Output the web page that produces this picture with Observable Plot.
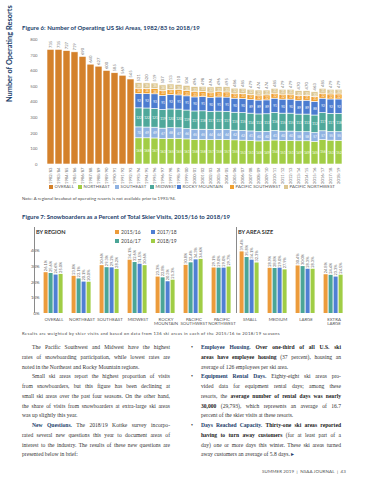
<!DOCTYPE html>
<html><head><meta charset="utf-8">
<script src="https://cdn.jsdelivr.net/npm/d3@7"></script>
<script src="https://cdn.jsdelivr.net/npm/@observablehq/plot@0.6"></script>
<style>
body{margin:0;background:#fff;}
#page{position:relative;width:370px;height:480px;overflow:hidden;background:#fff;font-family:Lato,sans-serif;}
.abs{position:absolute;white-space:nowrap;line-height:1;transform:translateY(-50%);}
.title{font-weight:700;color:#22406b;font-size:6px;}
.small{font-size:4.2px;color:#444;}
.leg{font-size:4.3px;color:#555;letter-spacing:0.1px;}
.sw{position:absolute;width:4px;height:4px;transform:translateY(-50%);}
.ln{position:absolute;white-space:nowrap;font-family:"Liberation Serif",serif;font-size:5.6px;color:#333;line-height:1;transform:translateY(-50%);}
.ln b{font-weight:700;color:#222;}
.ln b.nv{color:#22406b;}
.vline{position:absolute;width:0.7px;background:#8a8a8a;}
</style></head><body><div id="page"></div><script>
// ---------- Figure 6 data ----------
const seasons = ["1982/83","1983/84","1984/85","1985/86","1986/87","1987/88","1988/89","1989/90","1990/91","1991/92","1992/93","1993/94","1994/95","1995/96","1996/97","1997/98","1998/99","1999/00","2000/01","2001/02","2002/03","2003/04","2004/05","2005/06","2006/07","2007/08","2008/09","2009/10","2010/11","2011/12","2012/13","2013/14","2014/15","2015/16","2016/17","2017/18","2018/19"];
const overallValues = [735,735,727,719,690,640,627,600,585,569,545];
const northeast = [168,168,167,163,165,165,161,158,158,157,158,157,155,153,151,148,149,154,151,151,149,149,145,156,153,152];
const southeast = [70,69,69,67,68,67,66,65,65,64,64,64,62,62,61,60,60,61,60,60,58,58,57,57,55,55];
const midwest = [122,122,121,119,120,120,119,117,118,117,117,117,115,115,114,113,113,116,115,115,113,113,112,117,117,118];
const rockyMountain = [92,92,93,91,92,91,91,90,91,90,91,91,90,90,89,89,89,91,90,90,89,89,88,92,92,92];
const pacificSouthwest = [34,34,34,33,34,33,33,33,33,33,33,33,32,33,32,32,32,32,32,32,31,31,31,32,32,32];
const pacificNorthwest = [35,35,35,34,34,34,34,33,33,33,33,33,32,32,32,32,31,31,31,31,30,30,30,31,30,30];
const regionNames = ["Northeast","Southeast","Midwest","Rocky Mountain","Pacific Southwest","Pacific Northwest"];
const legendLabels6 = ["OVERALL","NORTHEAST","SOUTHEAST","MIDWEST","ROCKY MOUNTAIN","PACIFIC SOUTHWEST","PACIFIC NORTHWEST"];
const colors6 = ["#d4812b","#a2cd45","#90b3e2","#4fa89b","#4c7cd0","#f0a030","#dcc690"];
const yTicks6 = [0,100,200,300,400,500,600,700,800];

// ---------- Figure 7 data ----------
const categories7 = ["OVERALL","NORTHEAST","SOUTHEAST","MIDWEST","ROCKY MOUNTAIN","PACIFIC SOUTHWEST","PACIFIC NORTHWEST","SMALL","MEDIUM","LARGE","EXTRA LARGE"];
const seasons7 = ["2015/16","2016/17","2017/18","2018/19"];
const s1516 = [26.1,23.8,30.6,34.1,23.3,30.8,29.1,39.4,28.9,30.4,24.8];
const s1617 = [25.6,22.1,29.3,32.6,22.8,32.4,29.0,35.8,28.8,30.0,24.4];
const s1718 = [24.6,20.1,29.2,31.5,20.3,34.3,29.0,34.1,29.0,28.3,23.3];
const s1819 = [25.0,20.0,28.2,30.6,21.3,34.6,29.7,32.3,27.9,28.3,24.5];
const colors7 = ["#ec9b3b","#4aa597","#4f7fd3","#a0cd45"];
const yTicks7 = [0,10,20,30,40];

const page = document.getElementById("page");
function add(html, x, y, cls, extra){
  const d = document.createElement("div");
  d.className = "abs " + (cls||"");
  d.innerHTML = html;
  d.style.left = x + "px"; d.style.top = y + "px";
  if (extra) Object.assign(d.style, extra);
  page.appendChild(d);
  return d;
}
function fit(el, target){
  const w = el.getBoundingClientRect().width;
  const n = el.textContent.length;
  el.style.letterSpacing = ((target - w) / n) + "px";
}
const navy = "#22406b";

// ---------- Figure 6 ----------
fit(add("Figure 6: Number of Operating US Ski Areas, 1982/83 to 2018/19", 22, 28, "title"), 178);

const data6 = [];
overallValues.forEach((v,i) => data6.push({season: seasons[i], region: "Overall", value: v}));
const regionArrays = [northeast, southeast, midwest, rockyMountain, pacificSouthwest, pacificNorthwest];
seasons.slice(11).forEach((s,i) => regionArrays.forEach((arr,k) => data6.push({season: s, region: regionNames[k], value: arr[i]})));
const regional6 = data6.filter(d => d.region !== "Overall");
const totals6 = seasons.map(s => ({season: s, total: d3.sum(data6.filter(d => d.season === s), d => d.value)}));

const chart6 = Plot.plot({
  width: 370, height: 158,
  marginTop: 9.2, marginBottom: 24, marginLeft: 38.5, marginRight: 20.2,
  style: {fontFamily: "Lato, sans-serif", fontSize: "4.2px", color: "#6b6b6b", background: "transparent", overflow: "visible"},
  x: {domain: seasons, padding: 0.15, tickRotate: -90, tickSize: 0, tickPadding: 3, label: null},
  y: {domain: [0, 800], ticks: yTicks6, tickSize: 0, tickPadding: 1.5, label: null},
  color: {domain: ["Overall", ...regionNames], range: colors6},
  marks: [
    Plot.barY(data6, {x: "season", y: "value", z: "region", fill: "region", stroke: "white", strokeWidth: 0.6}),
    Plot.text(regional6, Plot.stackY({x: "season", y: "value", z: "region", text: "value", fill: "white", fontSize: 3.1})),
    Plot.text(totals6, {x: "season", y: "total", text: "total", rotate: -90, textAnchor: "start", dy: -1.8, fontSize: 4.2, fill: "#777"}),
    Plot.text(["Number of Operating Resorts"], {frameAnchor: "left", rotate: -90, dx: -29.5, fontSize: 7.4, fontWeight: "bold", fill: navy})
  ]
});
chart6.style.position = "absolute"; chart6.style.left = "0px"; chart6.style.top = "30px";
page.appendChild(chart6);

// legend 6
const legX6 = [49, 78, 115, 150, 177, 230, 284];
legendLabels6.forEach((lab,i) => {
  const s = document.createElement("div");
  s.className = "sw"; s.style.left = legX6[i] + "px"; s.style.top = "187px"; s.style.background = colors6[i];
  page.appendChild(s);
  add(lab, legX6[i] + 5.5, 187, "leg");
});
fit(add("Note: A regional breakout of operating resorts is not available prior to 1993/94.", 22, 199, "small"), 154);

// ---------- Figure 7 ----------
fit(add("Figure 7: Snowboarders as a Percent of Total Skier Visits, 2015/16 to 2018/19", 22, 217, "title"), 208);

const data7 = [];
const seriesArrays7 = [s1516, s1617, s1718, s1819];
categories7.forEach((c,i) => seriesArrays7.forEach((arr,j) => data7.push({category: c, season: seasons7[j], value: arr[i]})));

const chart7 = Plot.plot({
  width: 370, height: 109,
  marginTop: 5, marginBottom: 18, marginLeft: 34.4, marginRight: 17.4,
  style: {fontFamily: "Lato, sans-serif", fontSize: "4.4px", color: "#555", background: "transparent", overflow: "visible"},
  fx: {domain: categories7, paddingInner: 0.19, paddingOuter: 0.1, label: null, axis: "bottom", tickSize: 0, tickPadding: 4, tickFormat: d => d.replace(" ", "\n")},
  x: {domain: seasons7, axis: null, padding: 0.12},
  y: {domain: [0, 55], ticks: yTicks7, tickFormat: d => d + "%", tickSize: 0, tickPadding: 3, label: null},
  color: {domain: seasons7, range: colors7},
  marks: [
    Plot.barY(data7, {fx: "category", x: "season", y: "value", fill: "season"}),
    Plot.text(data7, {fx: "category", x: "season", y: "value", text: d => d.value.toFixed(1) + "%", rotate: -90, textAnchor: "start", dy: -1.5, fontSize: 4, fill: "#666"})
  ]
});
chart7.style.position = "absolute"; chart7.style.left = "0px"; chart7.style.top = "222px";
page.appendChild(chart7);

const v1 = document.createElement("div"); v1.className = "vline";
Object.assign(v1.style, {left: "34px", top: "227px", height: "86px"}); page.appendChild(v1);
const v2 = document.createElement("div"); v2.className = "vline";
Object.assign(v2.style, {left: "235.5px", top: "227px", height: "86px"}); page.appendChild(v2);

add("BY REGION", 36, 232, "", {fontSize: "5.6px", fontWeight: "700", color: "#333"});
add("BY AREA SIZE", 238, 232, "", {fontSize: "5.6px", fontWeight: "700", color: "#333"});
const legPos7 = [[115,232],[115,241],[151,232],[151,241]];
seasons7.forEach((s,i) => {
  const sw = document.createElement("div");
  sw.className = "sw"; sw.style.left = legPos7[i][0] + "px"; sw.style.top = legPos7[i][1] + "px"; sw.style.background = colors7[i];
  page.appendChild(sw);
  add(s, legPos7[i][0] + 6, legPos7[i][1], "", {fontSize: "5px", color: "#444"});
});
fit(add("Results are weighted by skier visits and based on data from 136 ski areas in each of the 2015/16 to 2018/19 seasons", 22, 334, "small"), 258);

// ---------- Body text ----------
const leftLines = [
  ["The Pacific Southwest and Midwest have the highest", 1, 1],
  ["rates of snowboarding participation, while lowest rates are", 1, 0],
  ["noted in the Northeast and Rocky Mountain regions.", 0, 0],
  ["Small ski areas report the highest proportion of visits", 1, 1],
  ["from snowboarders, but this figure has been declining at", 1, 0],
  ["small ski areas over the past four seasons. On the other hand,", 1, 0],
  ["the share of visits from snowboarders at extra-large ski areas", 1, 0],
  ["was up slightly this year.", 0, 0],
  ["<b class='nv'>New Questions.</b> The 2018/19 Kottke survey incorpo-", 1, 1],
  ["rated several new questions this year to document areas of", 1, 0],
  ["interest to the industry. The results of these new questions are", 1, 0],
  ["presented below in brief:", 0, 0]
];
const rightLines = [
  ["<b class='nv'>Employee Housing.</b> <b>Over one-third of all U.S. ski</b>", 1, 1],
  ["<b>areas have employee housing</b> (37 percent), housing an", 1, 0],
  ["average of 126 employees per ski area.", 0, 0],
  ["<b class='nv'>Equipment Rental Days.</b> Eighty-eight ski areas pro-", 1, 1],
  ["vided data for equipment rental days; among these", 1, 0],
  ["resorts, the <b>average number of rental days was nearly</b>", 1, 0],
  ["<b>30,000</b> (29,793), which represents an average of 16.7", 1, 0],
  ["percent of the skier visits at these resorts.", 0, 0],
  ["<b class='nv'>Days Reached Capacity.</b> <b>Thirty-one ski areas reported</b>", 1, 1],
  ["<b>having to turn away customers</b> (for at least part of a", 1, 0],
  ["day) one or more days this winter. These ski areas turned", 1, 0],
  ["away customers an average of 5.8 days. <span style='color:#22406b'>&#9656;</span>", 0, 0]
];
function column(lines, x0, width, indent, bullet){
  lines.forEach((l,i) => {
    const y = 348.3 + i * 9.73;
    const x = x0 + (l[2] && indent ? indent : 0);
    const d = document.createElement("div");
    d.className = "ln";
    d.innerHTML = l[0];
    d.style.left = x + "px"; d.style.top = y + "px";
    page.appendChild(d);
    if (l[1]) {
      const target = width - (x - x0);
      const w = d.getBoundingClientRect().width;
      const spaces = (d.textContent.match(/ /g) || []).length;
      if (spaces) d.style.wordSpacing = ((target - w) / spaces) + "px";
    }
    if (bullet && l[2]) {
      const b = document.createElement("div");
      b.className = "ln"; b.innerHTML = "&#8226;";
      b.style.left = (x0 - 10) + "px"; b.style.top = y + "px";
      page.appendChild(b);
    }
  });
}
column(leftLines, 22, 148, 10, false);
column(rightLines, 201, 140, 0, true);

fit(add("SUMMER 2019 &nbsp;|&nbsp; NSAA JOURNAL &nbsp;|&nbsp; 43", 262, 472, "", {fontSize: "4.5px", color: "#555"}), 84);
</script></body></html>
